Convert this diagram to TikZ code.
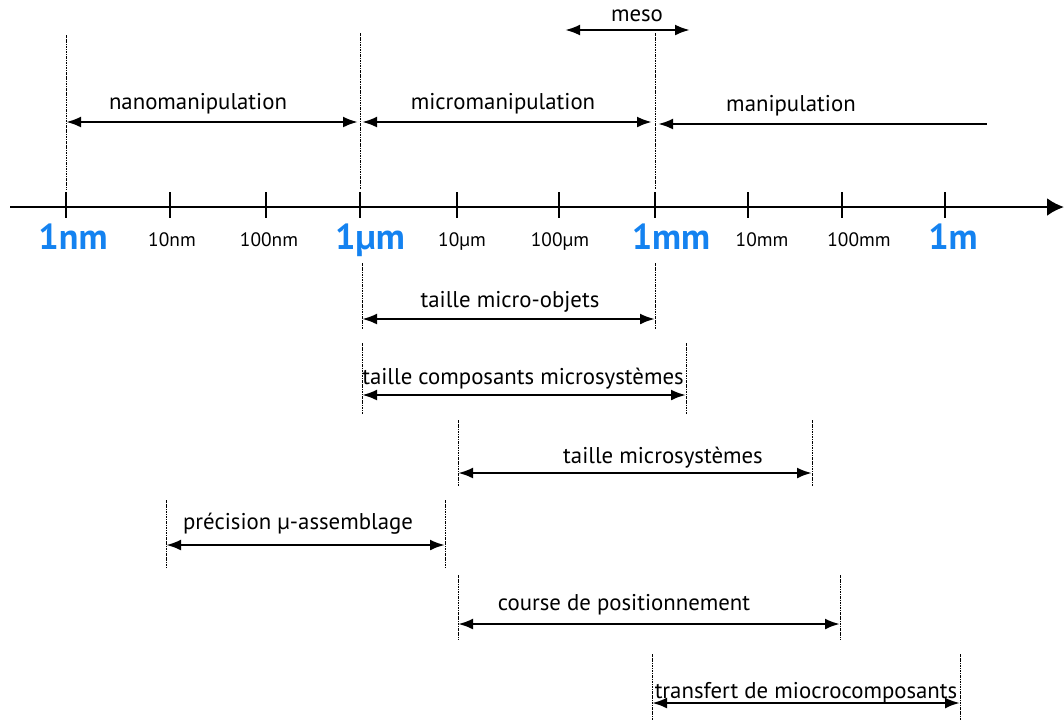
\documentclass[tikz,border=0pt]{standalone}
\usepackage{fontspec}
\setmainfont{PT Sans}
\usetikzlibrary{arrows.meta}
\definecolor{scaleblue}{RGB}{20,130,240}
\begin{document}
\begin{tikzpicture}[x=1pt,y=-1pt,
  guide/.style={line width=0.9pt, dash pattern=on 2.5pt off 1pt on 0.8pt off 1pt},
  span/.style={line width=2.6pt, {Latex[length=15pt,width=11pt]}-{Latex[length=15pt,width=11pt]}},
  lspan/.style={line width=2.6pt, {Latex[length=15pt,width=11pt]}-},
  lbl/.style={inner sep=0pt, font=\fontsize{22.8}{26}\selectfont},
  small/.style={inner sep=0pt, anchor=base, font=\fontsize{19.4}{22}\selectfont},
  big/.style={inner sep=0pt, anchor=base, text=scaleblue, font=\fontsize{36}{40}\selectfont\bfseries},
  tick/.style={line width=2.5pt}]
\useasboundingbox (0,0) rectangle (1064,724);
% axis
\coordinate (ax0) at (10,207);
\coordinate (ax1) at (1064,207);
\draw[line width=2.6pt, -{Latex[length=17pt,width=18pt]}] (ax0) -- (ax1);
% ticks
\foreach \x/\n in {66/t1,170/t2,266/t3,360/t4,457/t5,559/t6,655/t7,748/t8,842/t9,945/t10}{
  \coordinate (\n a) at (\x,192);
  \coordinate (\n b) at (\x,218);
  \draw[tick] (\n a) -- (\n b);
}
% tick labels
\node[big] (l1) at (73,249) {1nm};
\node[small] (l2) at (172,246) {10nm};
\node[small] (l3) at (269,246) {100nm};
\node[big] (l4) at (370,249) {1µm};
\node[small] (l5) at (462,246) {10µm};
\node[small] (l6) at (560,246) {100µm};
\node[big] (l7) at (671,249) {1mm};
\node[small] (l8) at (762,246) {10mm};
\node[small] (l9) at (859,246) {100mm};
\node[big] (l10) at (953,249) {1m};
% top guides
\coordinate (g1a) at (66,35);  \coordinate (g1b) at (66,190);
\coordinate (g2a) at (360,33); \coordinate (g2b) at (360,190);
\coordinate (g3a) at (655,33); \coordinate (g3b) at (655,190);
\draw[guide] (g1a) -- (g1b);
\draw[guide] (g2a) -- (g2b);
\draw[guide] (g3a) -- (g3b);
% top spans
\coordinate (nA) at (66,122);  \coordinate (nB) at (358,122);
\coordinate (mA) at (362,122); \coordinate (mB) at (652,122);
\coordinate (pA) at (658,124); \coordinate (pB) at (987,124);
\coordinate (sA) at (565,30);  \coordinate (sB) at (690,30);
\draw[span] (nA) -- (nB);
\draw[span] (mA) -- (mB);
\draw[lspan] (pA) -- (pB);
\draw[span] (sA) -- (sB);
\node[lbl] (nano) at (198,104) {nanomanipulation};
\node[lbl] (micro) at (503,104) {micromanipulation};
\node[lbl] (manip) at (791,106) {manipulation};
\node[lbl] (meso) at (637,16) {meso};
% lower spans
\foreach \n/\xa/\xb/\ya/\yb/\ym in {
  o/362/655/263/330/319,
  c/362/686/343/415/395,
  s/458/812/420/486/473,
  p/166/445/500/568/545,
  k/458/840/575/640/624,
  t/652/960/654/720/703}{
  \coordinate (\n1) at (\xa,\ya); \coordinate (\n2) at (\xa,\yb);
  \coordinate (\n3) at (\xb,\ya); \coordinate (\n4) at (\xb,\yb);
  \coordinate (\n L) at (\xa,\ym); \coordinate (\n R) at (\xb,\ym);
  \draw[guide] (\n1) -- (\n2);
  \draw[guide] (\n3) -- (\n4);
  \draw[span] (\n L) -- (\n R);
}
\node[lbl] (objets) at (510,302) {taille micro-objets};
\node[lbl] (compo) at (523,379) {taille composants microsystèmes};
\node[lbl] (msys) at (663,458) {taille microsystèmes};
\node[lbl] (prec) at (298,524) {précision µ-assemblage};
\node[lbl] (course) at (624,605) {course de positionnement};
\node[lbl] (transf) at (806,693) {transfert de miocrocomposants};
\end{tikzpicture}
\end{document}
